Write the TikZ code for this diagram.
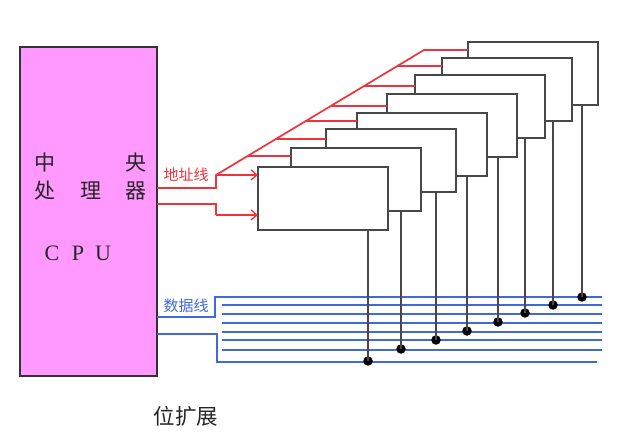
\documentclass[tikz,border=0pt]{standalone}
\usepackage{fontspec}
\setmainfont{Liberation Serif}
\newfontfamily\cjk{Noto Sans CJK SC}
\usetikzlibrary{arrows.meta}
\definecolor{redline}{HTML}{F0323C}
\definecolor{blueline}{HTML}{4169DC}
\definecolor{boxline}{HTML}{484848}
\definecolor{cpufill}{HTML}{FF99FF}
\tikzset{
  chip/.style={draw=boxline,fill=white,line width=1.7pt,minimum width=130pt,minimum height=63pt,inner sep=0pt,outer sep=0pt},
  cpubox/.style={draw=black!80,fill=cpufill,line width=1.7pt,minimum width=137pt,minimum height=329pt,inner sep=0pt,outer sep=0pt},
  addr/.style={draw=redline,line width=1.7pt},
  addrarrow/.style={addr,-{Straight Barb[length=6pt,width=10pt,line width=1.3pt]}},
  databus/.style={draw=blueline,line width=1.7pt},
  tap/.style={draw=boxline,line width=1.7pt},
  joint/.style={circle,fill=black,minimum size=9.5pt,inner sep=0pt,outer sep=0pt},
  cputext/.style={font=\cjk\fontsize{21}{21}\selectfont,text=black!85,inner sep=0pt},
  cpulatin/.style={font=\fontsize{22}{22}\selectfont,text=black!85,inner sep=0pt},
  buslabel/.style={font=\cjk\fontsize{15}{15}\selectfont,inner sep=0pt},
  caption/.style={font=\cjk\fontsize{21.5}{21.5}\selectfont,text=black!85,inner sep=0pt}
}
\begin{document}
\begin{tikzpicture}[x=1pt,y=-1pt]
\useasboundingbox (0,0) rectangle (638,433);
\fill[white] (0,0) rectangle (638,433);
% CPU
\node[cpubox] (cpu) at (88.5,211.5) {};
\node[cputext] (t1) at (45,163) {中};
\node[cputext] (t2) at (136,163) {央};
\node[cputext] (t3) at (45,191) {处};
\node[cputext] (t4) at (91,191) {理};
\node[cputext] (t5) at (136,191) {器};
\node[cpulatin] (t6) at (52,253) {C};
\node[cpulatin] (t7) at (78,253) {P};
\node[cpulatin] (t8) at (103,253) {U};
% chips, back to front
\node[chip] (b8) at (533,73.5) {};
\node[chip] (b7) at (507,89.5) {};
\node[chip] (b6) at (480,106.5) {};
\node[chip] (b5) at (452,125.5) {};
\node[chip] (b4) at (422,144.5) {};
\node[chip] (b3) at (391,160.5) {};
\node[chip] (b2) at (356,179.5) {};
\node[chip] (b1) at (323,198.5) {};
% address lines
\coordinate (a0) at (216,175);
\coordinate (a1) at (216,215);
\coordinate (k8) at (424,50);
\coordinate (k7) at (397,66);
\coordinate (k6) at (364,86);
\coordinate (k5) at (331,106);
\coordinate (k4) at (304.5,121);
\coordinate (k3) at (275,139);
\coordinate (k2) at (246.5,156);
\draw[addr] (cpu.east |- 0,188) -- (216,188) -- (a0) -- (k8) -- (b8.west |- k8);
\draw[addr] (k7) -- (b7.west |- k7);
\draw[addr] (k6) -- (b6.west |- k6);
\draw[addr] (k5) -- (b5.west |- k5);
\draw[addr] (k4) -- (b4.west |- k4);
\draw[addr] (k3) -- (b3.west |- k3);
\draw[addr] (k2) -- (b2.west |- k2);
\draw[addrarrow] (a0) -- (b1.west |- a0);
\draw[addr] (cpu.east |- 0,204) -- (216,204) -- (a1);
\draw[addrarrow] (a1) -- (b1.west |- a1);
% data lines
\coordinate (d1) at (602,297);
\coordinate (d2) at (602,305);
\coordinate (d3) at (602,314);
\coordinate (d4) at (602,323);
\coordinate (d5) at (602,332);
\coordinate (d6) at (602,340);
\coordinate (d7) at (602,350);
\coordinate (d8) at (597,362);
\draw[databus] (cpu.east |- 0,317) -- (215,317) -- (215,297) -- (d1);
\draw[databus] (222,305) -- (d2);
\draw[databus] (222,314) -- (d3);
\draw[databus] (222,323) -- (d4);
\draw[databus] (222,332) -- (d5);
\draw[databus] (222,340) -- (d6);
\draw[databus] (222,350) -- (d7);
\draw[databus] (cpu.east |- 0,334) -- (217,334) -- (217,362) -- (d8);
% taps
\node[joint] (j1) at (368,361) {};
\node[joint] (j2) at (401,349) {};
\node[joint] (j3) at (436,340) {};
\node[joint] (j4) at (467,331) {};
\node[joint] (j5) at (498,322) {};
\node[joint] (j6) at (525,313) {};
\node[joint] (j7) at (553,305) {};
\node[joint] (j8) at (582,297) {};
\draw[tap] (j1.center |- b1.south) -- (j1.center);
\draw[tap] (j2.center |- b2.south) -- (j2.center);
\draw[tap] (j3.center |- b3.south) -- (j3.center);
\draw[tap] (j4.center |- b4.south) -- (j4.center);
\draw[tap] (j5.center |- b5.south) -- (j5.center);
\draw[tap] (j6.center |- b6.south) -- (j6.center);
\draw[tap] (j7.center |- b7.south) -- (j7.center);
\draw[tap] (j8.center |- b8.south) -- (j8.center);
% labels
\node[buslabel,text=redline] (la) at (186,175) {地址线};
\node[buslabel,text=blueline] (ld) at (186,305.5) {数据线};
\node[caption] (cap) at (186,416.5) {位扩展};
\end{tikzpicture}
\end{document}
